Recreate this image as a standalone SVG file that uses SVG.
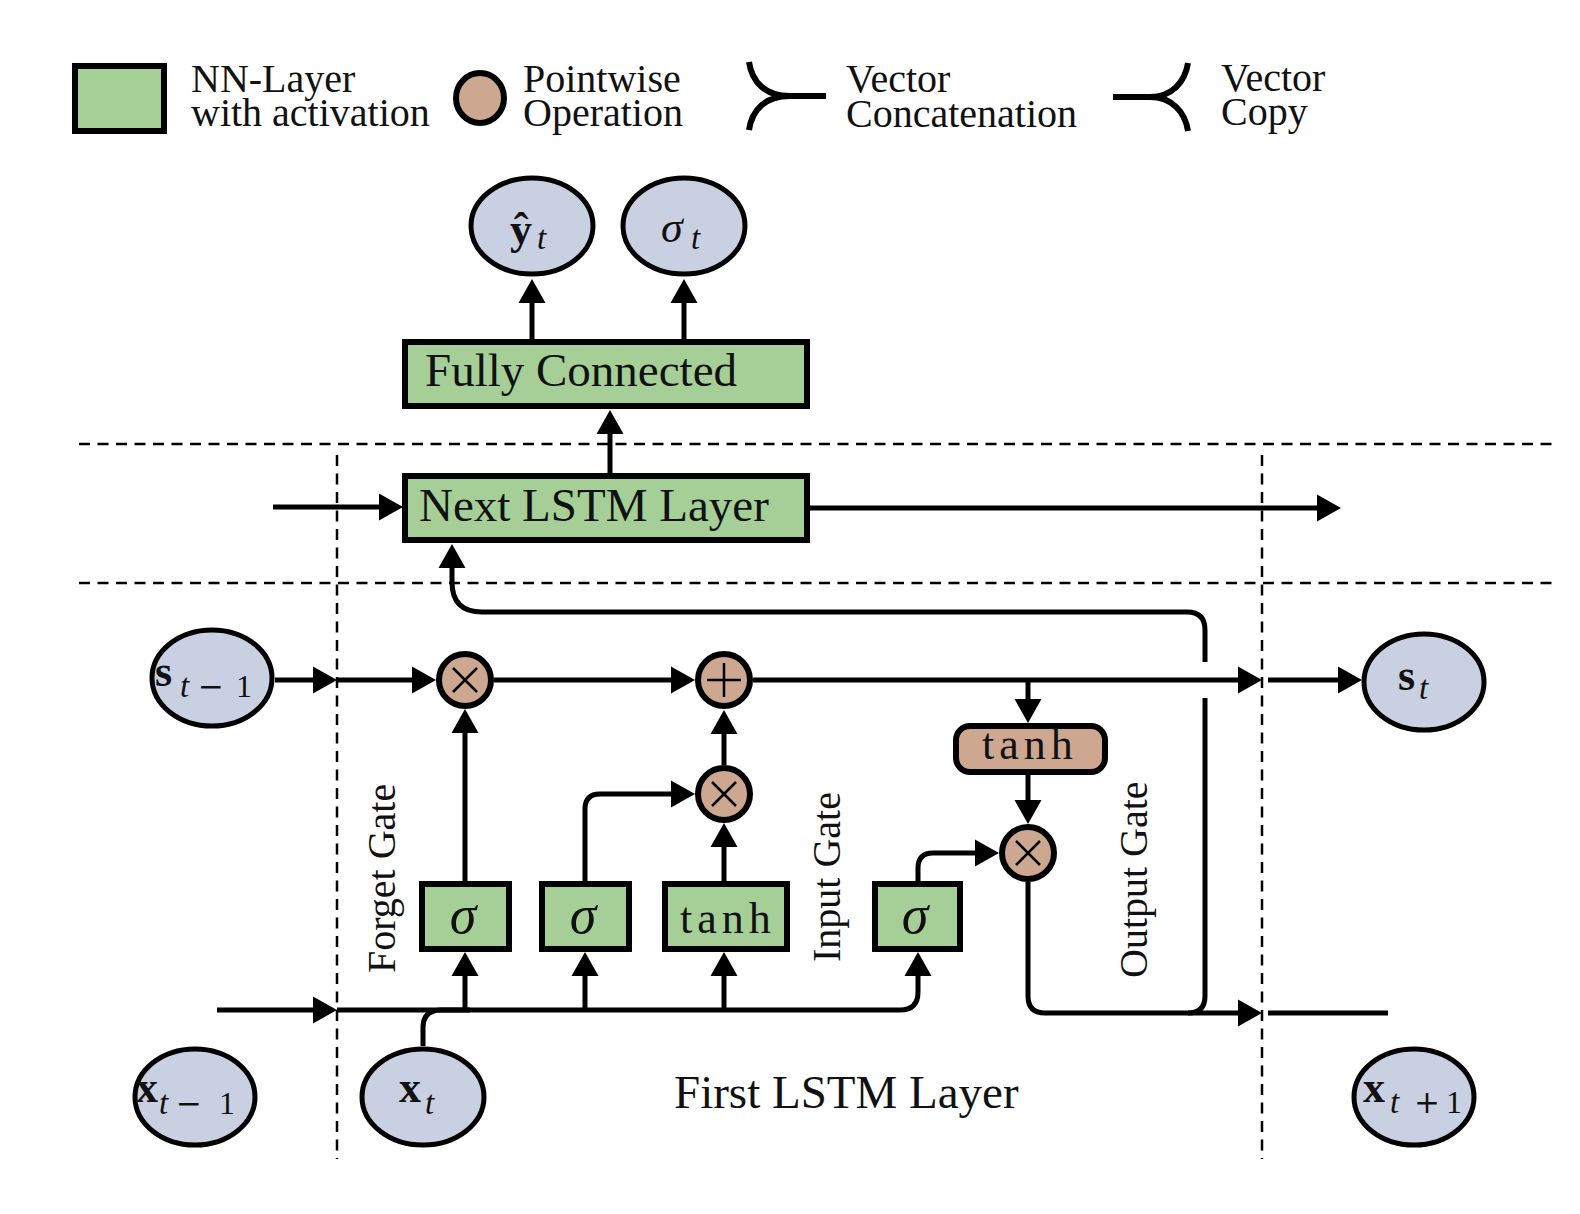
<svg xmlns="http://www.w3.org/2000/svg" width="1580" height="1214" viewBox="0 0 1580 1214">
<style>
.lbl{font-family:"Liberation Serif","Times New Roman",serif;fill:#111}
.leg{font-size:40px}
.big{font-size:47px}
.gate{font-size:40px}
.nn{fill:#a5cf96;stroke:#000;stroke-width:6}
.op{fill:#cda78f;stroke:#000;stroke-width:6}
.var{fill:#c9d0e1;stroke:#000;stroke-width:5}
.ln{fill:none;stroke:#000;stroke-width:5}
.sym{fill:none;stroke:#000;stroke-width:2.5}
.dash{fill:none;stroke:#000;stroke-width:2.5;stroke-dasharray:11 7.5}
.mb{font-family:"Liberation Serif",serif;font-weight:bold;font-size:44px;fill:#111}
.mi{font-family:"Liberation Serif",serif;font-style:italic;font-size:33px;fill:#111}
.mr{font-family:"Liberation Serif",serif;font-size:32px;fill:#111}
.mo{font-family:"DejaVu Serif",serif;font-size:31px;fill:#111}
.fn{font-family:"Liberation Serif",serif;font-size:44px;letter-spacing:5px;fill:#111}
.sg{font-family:"Liberation Serif",serif;font-style:italic;font-size:54px;fill:#111}
</style>
<defs>
<marker id="ah" markerUnits="userSpaceOnUse" markerWidth="24" markerHeight="27" refX="19" refY="13.5" orient="auto" overflow="visible">
<path d="M0,0 L24,13.5 L0,27 z" fill="#000"/>
</marker>
</defs>
<rect width="1580" height="1214" fill="#fff"/>

<g id="legend">
<rect class="nn" x="75" y="66" width="89" height="65"/>
<text class="lbl leg" x="191" y="92">NN-Layer</text>
<text class="lbl leg" x="191" y="126">with activation</text>
<ellipse class="op" cx="480" cy="98" rx="24" ry="25"/>
<text class="lbl leg" x="523" y="92">Pointwise</text>
<text class="lbl leg" x="523" y="126">Operation</text>
<path class="ln" style="stroke-width:6" d="M749,62 C752,82 765,96 790,96 L826,96 M749,130 C752,110 765,96 790,96"/>
<text class="lbl leg" x="846" y="92">Vector</text>
<text class="lbl leg" x="846" y="127">Concatenation</text>
<path class="ln" style="stroke-width:6" d="M1113,97 L1150,97 C1172,97 1185,82 1188,63 M1150,97 C1172,97 1185,112 1188,131"/>
<text class="lbl leg" x="1221" y="91">Vector</text>
<text class="lbl leg" x="1221" y="125">Copy</text>
</g>

<g id="separators">
<line class="dash" x1="79" y1="444" x2="1553" y2="444"/>
<line class="dash" x1="79" y1="583" x2="1553" y2="583"/>
<line class="dash" x1="337" y1="455" x2="337" y2="1159"/>
<line class="dash" x1="1262" y1="455" x2="1262" y2="1159"/>
</g>

<g id="connectors">
<path class="ln" marker-end="url(#ah)" d="M532,339 L532,284"/>
<path class="ln" marker-end="url(#ah)" d="M684,339 L684,284"/>
<path class="ln" marker-end="url(#ah)" d="M610,473 L610,415"/>
<path class="ln" marker-end="url(#ah)" d="M273,507 L398,507"/>
<path class="ln" marker-end="url(#ah)" d="M810,508 L1336,508"/>
<path class="ln" marker-end="url(#ah)" d="M1188,1013 Q1205,1013 1205,996 L1205,698 M1205,662 L1205,630 Q1205,612 1187,612 L482,612 Q452,612 452,582 L452,549"/>
<path class="ln" marker-end="url(#ah)" d="M275,680 L332,680"/>
<path class="ln" marker-end="url(#ah)" d="M337,680 L431,680"/>
<path class="ln" marker-end="url(#ah)" d="M494,680 L690,680"/>
<path class="ln" marker-end="url(#ah)" d="M753,680 L1257,680"/>
<path class="ln" marker-end="url(#ah)" d="M1268,680 L1357,680"/>
<path class="ln" marker-end="url(#ah)" d="M465,881 L465,714"/>
<path class="ln" marker-end="url(#ah)" d="M585,881 L585,809 Q585,794 600,794 L690,794"/>
<path class="ln" marker-end="url(#ah)" d="M724,881 L724,828"/>
<path class="ln" marker-end="url(#ah)" d="M724,765 L724,715"/>
<path class="ln" marker-end="url(#ah)" d="M1028,680 L1028,718"/>
<path class="ln" marker-end="url(#ah)" d="M1028,775 L1028,819"/>
<path class="ln" marker-end="url(#ah)" d="M918,881 L918,868 Q918,853 933,853 L994,853"/>
<path class="ln" marker-end="url(#ah)" d="M1028,882 L1028,996 Q1028,1013 1045,1013 L1257,1013"/>
<path class="ln" d="M1268,1013 L1388,1013"/>
<path class="ln" marker-end="url(#ah)" d="M217,1010 L332,1010"/>
<path class="ln" marker-end="url(#ah)" d="M337,1010 L900,1010 Q918,1010 918,992 L918,957"/>
<path class="ln" marker-end="url(#ah)" d="M465,1010 L465,957"/>
<path class="ln" marker-end="url(#ah)" d="M585,1010 L585,957"/>
<path class="ln" marker-end="url(#ah)" d="M724,1010 L724,957"/>
<path class="ln" d="M423,1046 L423,1028 Q423,1010 441,1010 L470,1010"/>
</g>

<g id="y_hat">
<ellipse class="var" cx="532" cy="226" rx="61" ry="48"/>
<text class="mb" x="510" y="244">ŷ</text><text class="mi" x="537" y="249">t</text>
</g>
<g id="sigma_t">
<ellipse class="var" cx="684" cy="226" rx="61" ry="48"/>
<text class="mi" x="661" y="242" style="font-size:44px">σ</text><text class="mi" x="691" y="249">t</text>
</g>
<g id="fully_connected">
<rect class="nn" x="405" y="342" width="402" height="64"/>
<text class="lbl big" x="425" y="386">Fully Connected</text>
</g>
<g id="next_lstm">
<rect class="nn" x="405" y="476" width="402" height="64"/>
<text class="lbl big" x="419" y="521">Next LSTM Layer</text>
</g>

<g id="s_prev">
<ellipse class="var" cx="212" cy="678" rx="60" ry="48"/>
<text class="mb" x="155" y="686">s</text><text class="mi" x="180" y="697">t</text><text class="mo" x="198" y="697">−</text><text class="mr" x="236" y="697">1</text>
</g>
<g id="s_t">
<ellipse class="var" cx="1424" cy="682" rx="60" ry="48"/>
<text class="mb" x="1398" y="690">s</text><text class="mi" x="1419" y="699">t</text>
</g>
<g id="x_prev">
<ellipse class="var" cx="195" cy="1097" rx="60" ry="48"/>
<text class="mb" x="136" y="1102">x</text><text class="mi" x="159" y="1114">t</text><text class="mo" x="176" y="1114">−</text><text class="mr" x="219" y="1114">1</text>
</g>
<g id="x_t">
<ellipse class="var" cx="423" cy="1097" rx="61" ry="48"/>
<text class="mb" x="399" y="1102">x</text><text class="mi" x="425" y="1114">t</text>
</g>
<g id="x_next">
<ellipse class="var" cx="1414" cy="1097" rx="60" ry="48"/>
<text class="mb" x="1363" y="1102">x</text><text class="mi" x="1390" y="1113">t</text><text class="mo" x="1414" y="1113">+</text><text class="mr" x="1446" y="1113">1</text>
</g>

<g id="forget_mul">
<circle class="op" cx="465" cy="680" r="26"/>
<path class="sym" d="M453,668 L477,692 M477,668 L453,692"/>
</g>
<g id="cell_add">
<circle class="op" cx="724" cy="680" r="26"/>
<path class="sym" d="M707,680 L741,680 M724,663 L724,697"/>
</g>
<g id="input_mul">
<circle class="op" cx="724" cy="794" r="26"/>
<path class="sym" d="M712,782 L736,806 M736,782 L712,806"/>
</g>
<g id="output_mul">
<circle class="op" cx="1028" cy="853" r="26"/>
<path class="sym" d="M1016,841 L1040,865 M1040,841 L1016,865"/>
</g>
<g id="tanh_op">
<rect class="op" x="956" y="726" width="149" height="46" rx="14"/>
<text class="fn" x="1030" y="759" text-anchor="middle">tanh</text>
</g>

<g id="forget_sigma">
<rect class="nn" x="422" y="884" width="87" height="65"/>
<text class="sg" x="463" y="933" text-anchor="middle">σ</text>
</g>
<g id="input_sigma">
<rect class="nn" x="542" y="884" width="87" height="65"/>
<text class="sg" x="583" y="933" text-anchor="middle">σ</text>
</g>
<g id="input_tanh">
<rect class="nn" x="665" y="884" width="122" height="65"/>
<text class="fn" x="728" y="933" text-anchor="middle">tanh</text>
</g>
<g id="output_sigma">
<rect class="nn" x="875" y="884" width="85" height="65"/>
<text class="sg" x="915" y="933" text-anchor="middle">σ</text>
</g>

<g id="labels">
<text class="lbl gate" transform="translate(395,973) rotate(-90)">Forget Gate</text>
<text class="lbl gate" transform="translate(840,962) rotate(-90)">Input Gate</text>
<text class="lbl gate" transform="translate(1147,978) rotate(-90)">Output Gate</text>
<text class="lbl big" x="674" y="1108">First LSTM Layer</text>
</g>
</svg>
